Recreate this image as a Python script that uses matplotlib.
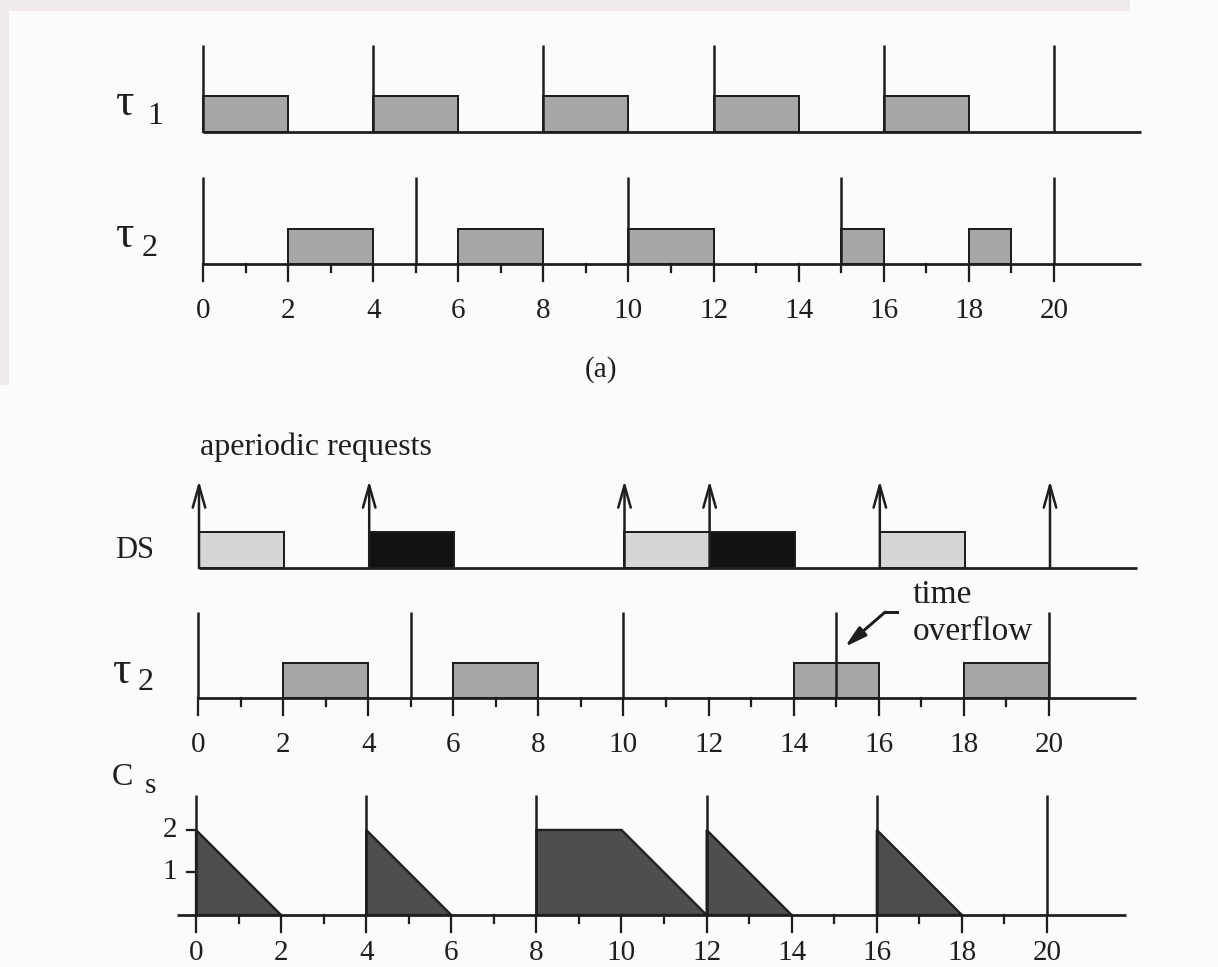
import matplotlib
matplotlib.use("Agg")
import matplotlib.pyplot as plt
from matplotlib.patches import Rectangle, Polygon

# ---------------- data ----------------
tau1_releases = [0, 4, 8, 12, 16, 20]
tau1_exec = [(0, 2), (4, 6), (8, 10), (12, 14), (16, 18)]

tau2a_releases = [0, 5, 10, 15, 20]
tau2a_exec = [(2, 4), (6, 8), (10, 12), (15, 16), (18, 19)]

ds_requests = [0, 4, 10, 12, 16, 20]
ds_exec_light = [(0, 2), (10, 12), (16, 18)]
ds_exec_dark = [(4, 6), (12, 14)]

tau2b_releases = [0, 5, 10, 15, 20]
tau2b_exec = [(2, 4), (6, 8), (14, 16), (18, 20)]

cs_replenish = [0, 4, 8, 12, 16, 20]
cs_t = [0, 2, 4, 6, 8, 10, 12, 12, 14, 16, 18]
cs_v = [2, 0, 2, 0, 2, 2, 0, 2, 0, 2, 0]
cs_segments = [(0, 2), (2, 4), (4, 7), (7, 9), (9, 11)]  # index ranges into cs_t / cs_v

x_ticks = list(range(0, 21))
x_ticklabels = [str(v) for v in range(0, 21, 2)]
cs_yticks = [1, 2]

# ---------------- style ----------------
W, H = 1218, 967
DPI = 100
S = 42.55  # pixels per time unit
INK = "#1e1e1e"
GRAY = "#a6a6a6"
LIGHT = "#d6d6d6"
DARK = "#121212"
CSFILL = "#4e4e4e"
FONT = "Liberation Serif"
LW = 1.8

plt.rcParams["font.family"] = [FONT, "DejaVu Serif"]

fig = plt.figure(figsize=(W / DPI, H / DPI), dpi=DPI, facecolor="#fbfbfb")

# scan border tint
fig.patches.append(Rectangle((0, 1 - 11 / H), 1130 / W, 11 / H, transform=fig.transFigure,
                             facecolor="#f1eaeb", edgecolor="none", zorder=0))
fig.patches.append(Rectangle((0, 1 - 385 / H), 9 / W, 385 / H, transform=fig.transFigure,
                             facecolor="#f1eaeb", edgecolor="none", zorder=0))

XLIM = (-1.5, 23.0)
YLIM = (-1.7, 3.3)


def make_axes(x0, y0):
    left = (x0 + XLIM[0] * S) / W
    width = (XLIM[1] - XLIM[0]) * S / W
    bottom = (H - (y0 - YLIM[0] * S)) / H
    height = (YLIM[1] - YLIM[0]) * S / H
    ax = fig.add_axes([left, bottom, width, height])
    ax.set_xlim(*XLIM)
    ax.set_ylim(*YLIM)
    ax.axis("off")
    ax.patch.set_alpha(0)
    return ax


def ftext(x, y, s, size, **kw):
    fig.text(x / W, 1 - y / H, s, fontsize=size, color=INK, va="baseline", **kw)


def bars(ax, spans, h, color):
    starts = [a for a, b in spans]
    widths = [b - a for a, b in spans]
    ax.bar(starts, [h] * len(spans), width=widths, align="edge", color=color,
           edgecolor=INK, linewidth=LW * 0.8, zorder=2)


def releases(ax, ts, h):
    ax.vlines(ts, 0, h, color=INK, linewidth=LW, zorder=3)


def baseline(ax, x_start, x_end=22.05):
    ax.plot([x_start, x_end], [0, 0], color=INK, linewidth=LW * 1.1, zorder=4,
            solid_capstyle="butt")


def xticks(ax, label_y=-1.27, va="baseline"):
    for t in x_ticks:
        ln = 0.41 if t % 2 == 0 else 0.19
        ax.plot([t, t], [0, -ln], color=INK, linewidth=LW * 0.9, zorder=4)
    for lab in x_ticklabels:
        ax.text(int(lab), label_y, lab, ha="center", va=va, fontsize=21, color=INK,
                clip_on=False)


BAR_H = 0.84
REL_H = 2.05

# ---------------- (a) tau1 ----------------
ax1 = make_axes(203, 132)
bars(ax1, tau1_exec, BAR_H, GRAY)
releases(ax1, tau1_releases, REL_H)
baseline(ax1, 0)
ftext(116, 115, "τ", 33)
ftext(147, 124, "1", 23)

# ---------------- (a) tau2 ----------------
ax2 = make_axes(203, 264)
bars(ax2, tau2a_exec, BAR_H * 0.97, GRAY)
releases(ax2, tau2a_releases, REL_H)
baseline(ax2, 0)
xticks(ax2)
ftext(116, 247, "τ", 33)
ftext(142, 256, "2", 23)
ftext(601, 377, "(a)", 21, ha="center")

# ---------------- (b) DS ----------------
ax3 = make_axes(199, 568)
bars(ax3, ds_exec_light, BAR_H, LIGHT)
bars(ax3, ds_exec_dark, BAR_H, DARK)
for t in ds_requests:
    ax3.annotate("", xy=(t, REL_H), xytext=(t, 0), annotation_clip=False,
                 arrowprops=dict(arrowstyle="->,head_length=1.6,head_width=0.45",
                                 color=INK, linewidth=LW, shrinkA=0, shrinkB=0),
                 zorder=3)
baseline(ax3, 0)
ftext(200, 455, "aperiodic requests", 23)
ftext(115, 558, "DS", 22)

# ---------------- (b) tau2 ----------------
ax4 = make_axes(198, 698)
bars(ax4, tau2b_exec, BAR_H * 0.97, GRAY)
releases(ax4, tau2b_releases, REL_H * 0.99)
baseline(ax4, 0)
xticks(ax4)
ftext(113, 683, "τ", 33)
ftext(138, 690, "2", 23)
ftext(913, 603, "time", 24)
ftext(913, 640, "overflow", 24)
# "time overflow" pointer
ax4.plot([16.43, 16.15], [2.02, 2.02], color=INK, linewidth=LW * 1.2, zorder=5)
ax4.annotate("", xy=(15.2, 1.2), xytext=(16.15, 2.02), annotation_clip=False,
             arrowprops=dict(arrowstyle="-|>,head_length=1.3,head_width=0.35",
                             color=INK, linewidth=LW * 1.2, shrinkA=0, shrinkB=0),
             zorder=5)

# ---------------- (b) server capacity ----------------
ax5 = make_axes(196, 915)
for i0, i1 in cs_segments:
    xs = cs_t[i0:i1]
    ys = cs_v[i0:i1]
    pts = [(xs[0], 0)] + list(zip(xs, ys)) + [(xs[-1], 0)]
    ax5.add_patch(Polygon(pts, closed=True, facecolor=CSFILL, edgecolor=INK,
                          linewidth=LW * 0.9, zorder=2))
releases(ax5, cs_replenish, 2.82)
baseline(ax5, -0.45, 21.85)
xticks(ax5, label_y=-(966 - 915) / S, va="bottom")
for v in cs_yticks:
    ax5.plot([-0.21, 0], [v, v], color=INK, linewidth=LW * 0.9, zorder=4)
    ax5.text(-0.45, v, str(v), ha="right", va="center", fontsize=21, color=INK)
ftext(112, 785, "C", 23)
ftext(145, 793, "s", 21)

fig.savefig("out.png", dpi=DPI, facecolor=fig.get_facecolor())
